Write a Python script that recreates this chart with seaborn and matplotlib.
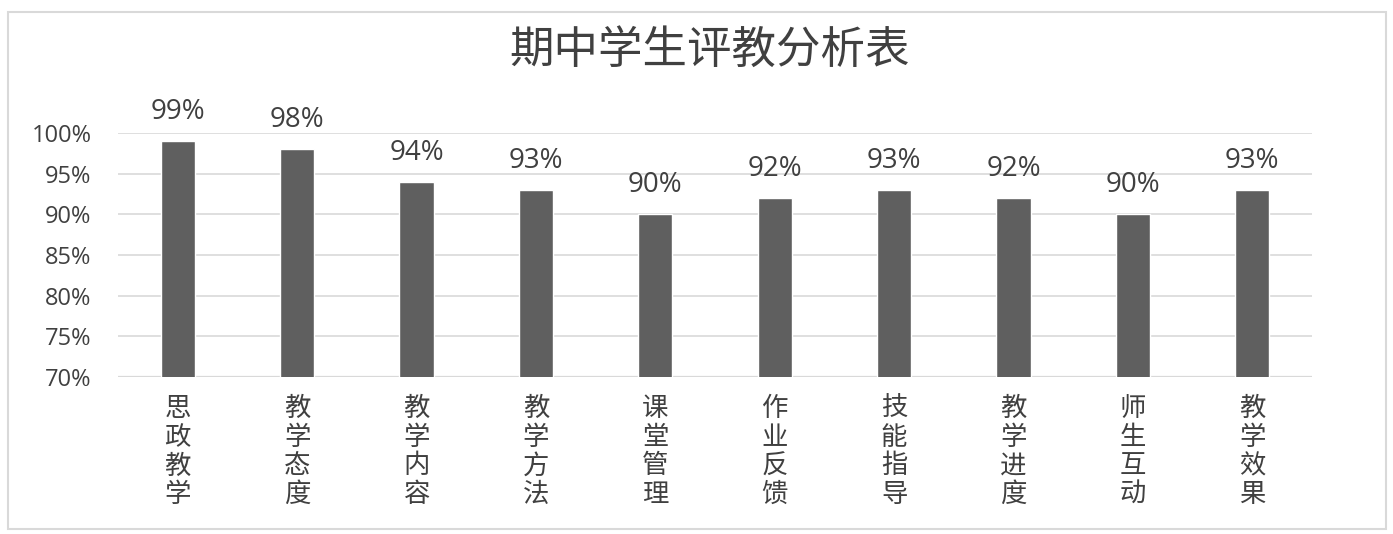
import matplotlib
matplotlib.use("Agg")
import matplotlib.pyplot as plt
import seaborn as sns
import pandas as pd
from matplotlib.patches import Rectangle

categories = ["思政教学", "教学态度", "教学内容", "教学方法", "课堂管理",
              "作业反馈", "技能指导", "教学进度", "师生互动", "教学效果"]
rates = [0.99, 0.98, 0.94, 0.93, 0.90, 0.92, 0.93, 0.92, 0.90, 0.93]
y_ticks = [0.70, 0.75, 0.80, 0.85, 0.90, 0.95, 1.00]
title = "期中学生评教分析表"

sns.set_theme(style="white")
plt.rcParams["font.family"] = ["Noto Sans CJK SC", "DejaVu Sans"]

num_font = ["Open Sans", "DejaVu Sans"]
text_color = "#404040"
bar_color = "#5f5f5f"
grid_color = "#d9d9d9"

df = pd.DataFrame({"item": categories, "rate": rates})

fig = plt.figure(figsize=(13.93, 5.34), dpi=100)
W, H = 1393, 534
ax = fig.add_axes([118 / W, 1 - 377 / H, (1312 - 118) / W, (377 - 133) / H])

sns.barplot(data=df, x="item", y="rate", color=bar_color, width=0.285,
            saturation=1, ax=ax)

ax.set_ylim(0.70, 1.00)
ax.set_xlim(-0.5, len(categories) - 0.5)
ax.set_yticks(y_ticks)
ax.set_yticklabels([f"{int(round(t * 100))}%" for t in y_ticks],
                   fontsize=17, color=text_color, family=num_font)
ax.set_xticks(range(len(categories)))
ax.set_xticklabels(["\n".join(c) for c in categories], fontsize=19,
                   color=text_color, va="top", linespacing=1.08,
                   fontweight="light")
ax.tick_params(axis="y", length=0, pad=19)
ax.tick_params(axis="x", length=0, pad=13)
ax.set_xlabel("")
ax.set_ylabel("")

for t in y_ticks:
    ax.axhline(t, color=grid_color, lw=1.6 if t == 0.70 else 1.2, zorder=0)
for s in ax.spines.values():
    s.set_visible(False)

for i, v in enumerate(rates):
    ax.annotate(f"{int(round(v * 100))}%", (i, v), xytext=(0, 16),
                textcoords="offset points", ha="center", va="baseline",
                fontsize=20, color=text_color, family=num_font,
                annotation_clip=False)

fig.text(710 / W, 1 - 50 / H, title, ha="center", va="center",
         fontsize=32, color=text_color, fontweight="light")

fig.patches.append(Rectangle((8 / W, 1 - 529 / H), (1386 - 8) / W, (529 - 12) / H,
                             transform=fig.transFigure, fill=False,
                             edgecolor=grid_color, lw=1.5))

fig.savefig("out.png", dpi=100, facecolor="white")
